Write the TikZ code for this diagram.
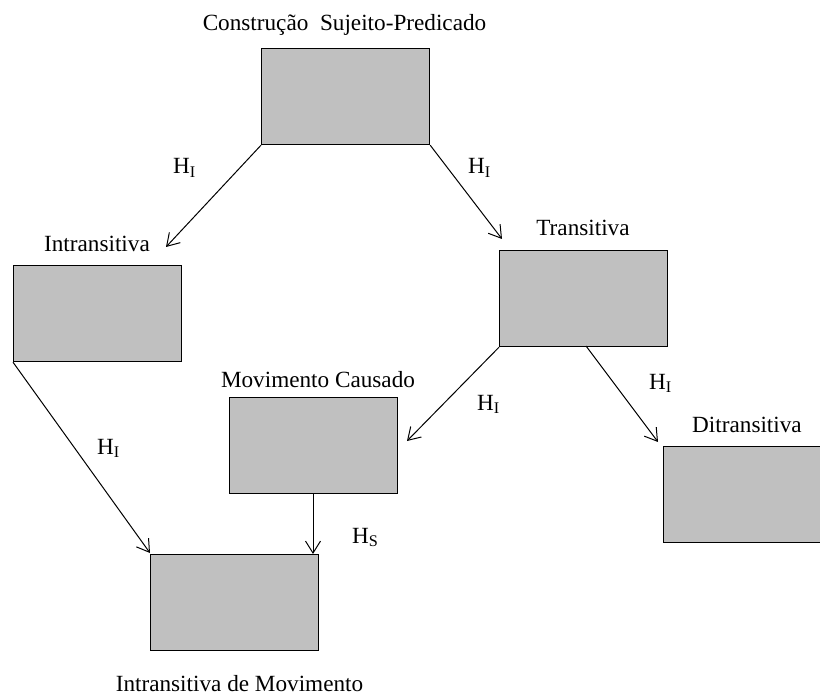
\documentclass[tikz,border=0pt]{standalone}
\usepackage{fontspec}
\setmainfont{Liberation Serif}
\usetikzlibrary{arrows.meta}

\definecolor{boxgray}{RGB}{192,192,192}

\begin{document}
\begin{tikzpicture}[
    x=1pt, y=-1pt,
    every node/.style={font=\fontsize{23.2}{27}\selectfont},
    cbox/.style={draw=black, fill=boxgray, line width=1.2pt, rectangle,
                 inner sep=0pt, minimum width=168pt, minimum height=96pt,
                 anchor=north west},
    lbl/.style={inner sep=0pt, anchor=base},
    hlbl/.style={inner sep=0pt, anchor=base west},
    arr/.style={line width=1pt, -{Straight Barb[length=12pt,width=15pt,line width=1pt]}}
  ]
  \useasboundingbox (0,0) rectangle (820,695);

  % constructions
  \node[cbox] (csp)   at (261,48)  {};
  \node[cbox] (intr)  at (13,265)  {};
  \node[cbox] (trans) at (499,250) {};
  \node[cbox] (mc)    at (229,397) {};
  \node[cbox] (ditr)  at (663,446) {};
  \node[cbox] (idm)   at (150,554) {};

  % construction names
  \node[lbl] (tcsp)   at (344.5,31) {Construção\ \ Sujeito-Predicado};
  \node[lbl] (tintr)  at (97,252)   {Intransitiva};
  \node[lbl] (ttrans) at (583,236)  {Transitiva};
  \node[lbl] (tmc)    at (318,387)  {Movimento Causado};
  \node[lbl] (tditr)  at (747,432)  {Ditransitiva};
  \node[lbl] (tidm)   at (239.5,691) {Intransitiva de Movimento};

  % arrow tips
  \coordinate (pIntr)  at (166,247);
  \coordinate (pTrans) at (502,239);
  \coordinate (pIdmA)  at (150,553);
  \coordinate (pMc)    at (407,441);
  \coordinate (pDitr)  at (658,442);
  \coordinate (pIdmB)  at (313,554);
  \coordinate (sMc)    at (313,493);
  \coordinate (sDitr)  at (586,346);

  % inheritance links
  \draw[arr] (csp.south west)   -- (pIntr);
  \draw[arr] (csp.south east)   -- (pTrans);
  \draw[arr] (intr.south west)  -- (pIdmA);
  \draw[arr] (trans.south west) -- (pMc);
  \draw[arr] (sDitr)            -- (pDitr);
  \draw[arr] (sMc)              -- (pIdmB);

  % link labels
  \node[hlbl] (h1) at (173,174) {H\textsubscript{I}};
  \node[hlbl] (h2) at (468,174) {H\textsubscript{I}};
  \node[hlbl] (h3) at (97,454)  {H\textsubscript{I}};
  \node[hlbl] (h4) at (477,410) {H\textsubscript{I}};
  \node[hlbl] (h5) at (649,389) {H\textsubscript{I}};
  \node[hlbl] (h6) at (352,543) {H\textsubscript{S}};
\end{tikzpicture}
\end{document}
